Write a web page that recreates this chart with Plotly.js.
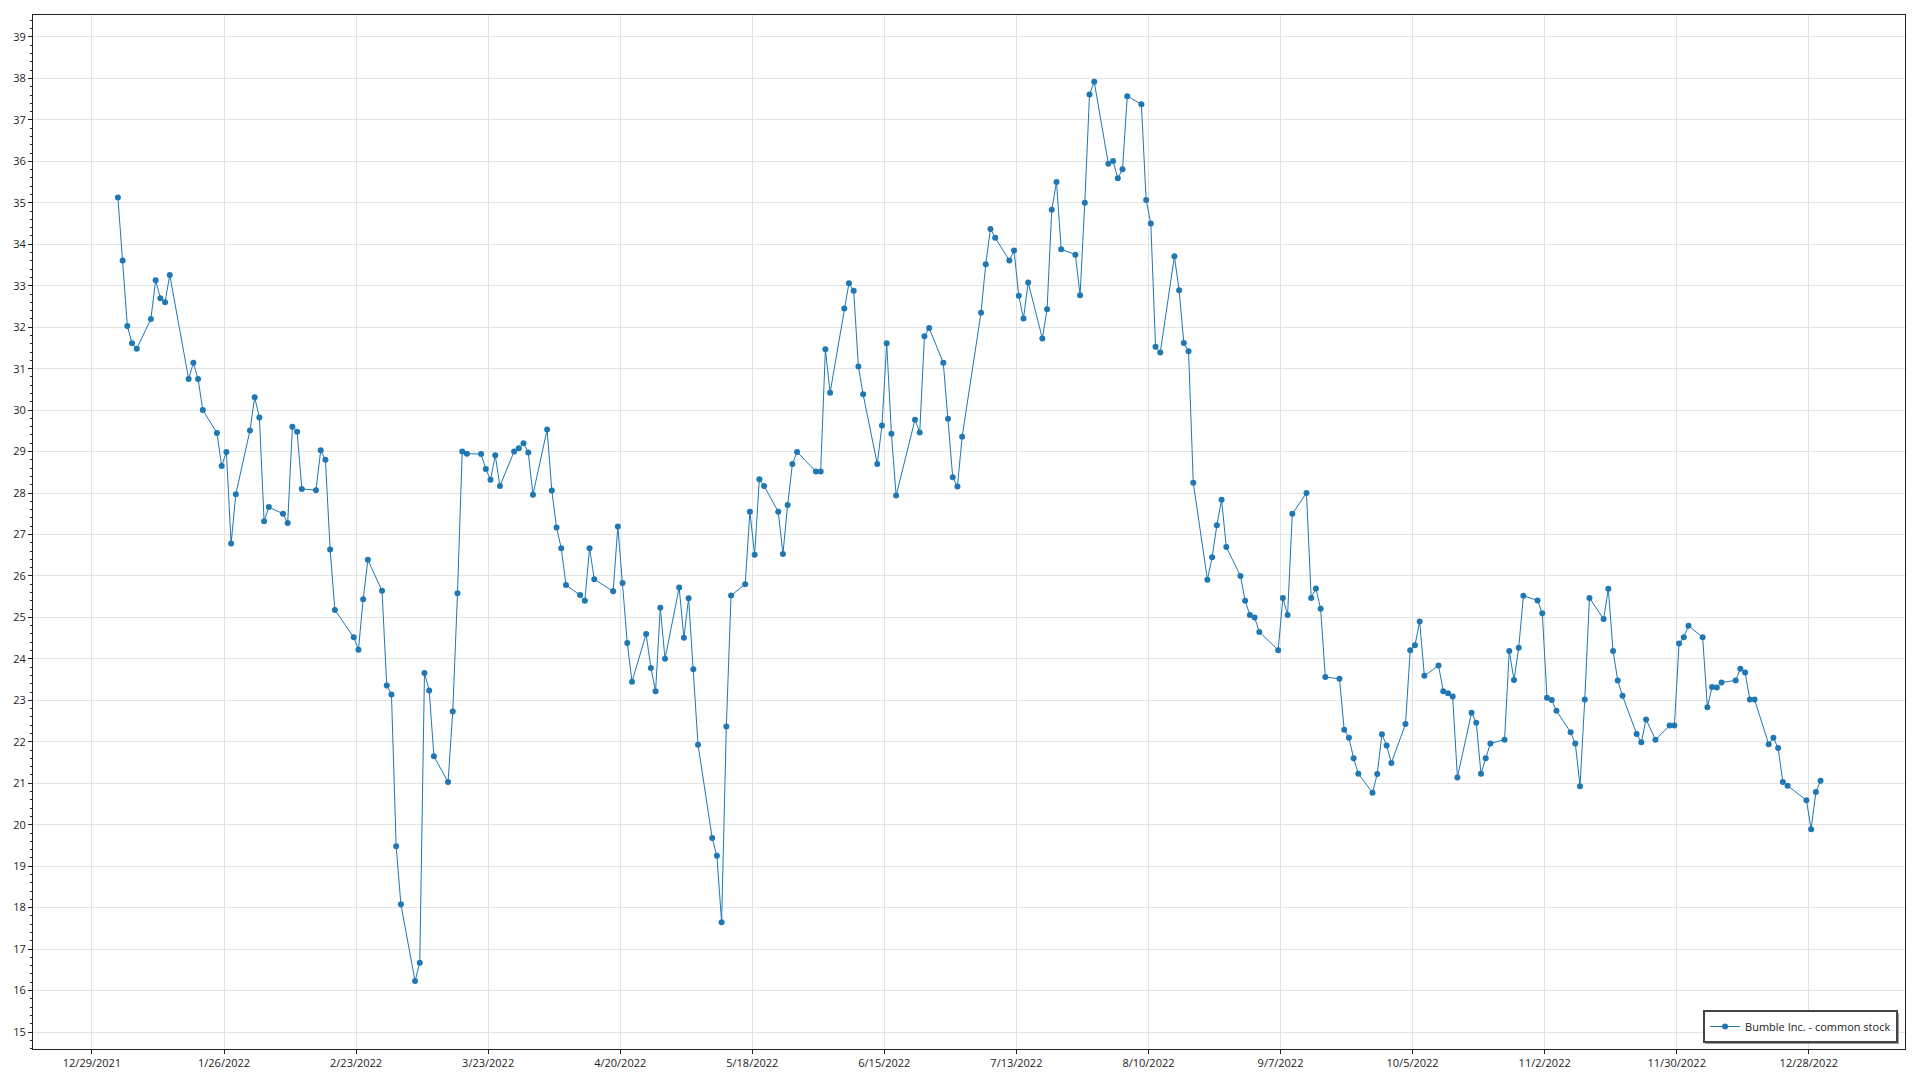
<!DOCTYPE html>
<html>
<head>
<meta charset="utf-8">
<script src="https://cdn.plot.ly/plotly-3.0.1.min.js"></script>
<style>
html,body{margin:0;padding:0;background:#fff;}
#chart{width:1920px;height:1080px;}
</style>
</head>
<body>
<div id="chart"></div>
<script>
const seriesName = "Bumble Inc. - common stock";
const dates = [
"2022-01-03","2022-01-04","2022-01-05","2022-01-06","2022-01-07",
"2022-01-10","2022-01-11","2022-01-12","2022-01-13","2022-01-14",
"2022-01-18","2022-01-19","2022-01-20","2022-01-21",
"2022-01-24","2022-01-25","2022-01-26","2022-01-27","2022-01-28",
"2022-01-31","2022-02-01","2022-02-02","2022-02-03","2022-02-04",
"2022-02-07","2022-02-08","2022-02-09","2022-02-10","2022-02-11",
"2022-02-14","2022-02-15","2022-02-16","2022-02-17","2022-02-18",
"2022-02-22","2022-02-23","2022-02-24","2022-02-25",
"2022-02-28","2022-03-01","2022-03-02","2022-03-03","2022-03-04",
"2022-03-07","2022-03-08","2022-03-09","2022-03-10","2022-03-11",
"2022-03-14","2022-03-15","2022-03-16","2022-03-17","2022-03-18",
"2022-03-21","2022-03-22","2022-03-23","2022-03-24","2022-03-25",
"2022-03-28","2022-03-29","2022-03-30","2022-03-31","2022-04-01",
"2022-04-04","2022-04-05","2022-04-06","2022-04-07","2022-04-08",
"2022-04-11","2022-04-12","2022-04-13","2022-04-14",
"2022-04-18","2022-04-19","2022-04-20","2022-04-21","2022-04-22",
"2022-04-25","2022-04-26","2022-04-27","2022-04-28","2022-04-29",
"2022-05-02","2022-05-03","2022-05-04","2022-05-05","2022-05-06",
"2022-05-09","2022-05-10","2022-05-11","2022-05-12","2022-05-13",
"2022-05-16","2022-05-17","2022-05-18","2022-05-19","2022-05-20",
"2022-05-23","2022-05-24","2022-05-25","2022-05-26","2022-05-27",
"2022-05-31","2022-06-01","2022-06-02","2022-06-03",
"2022-06-06","2022-06-07","2022-06-08","2022-06-09","2022-06-10",
"2022-06-13","2022-06-14","2022-06-15","2022-06-16","2022-06-17",
"2022-06-21","2022-06-22","2022-06-23","2022-06-24",
"2022-06-27","2022-06-28","2022-06-29","2022-06-30","2022-07-01",
"2022-07-05","2022-07-06","2022-07-07","2022-07-08",
"2022-07-11","2022-07-12","2022-07-13","2022-07-14","2022-07-15",
"2022-07-18","2022-07-19","2022-07-20","2022-07-21","2022-07-22",
"2022-07-25","2022-07-26","2022-07-27","2022-07-28","2022-07-29",
"2022-08-01","2022-08-02","2022-08-03","2022-08-04","2022-08-05",
"2022-08-08","2022-08-09","2022-08-10","2022-08-11","2022-08-12",
"2022-08-15","2022-08-16","2022-08-17","2022-08-18","2022-08-19",
"2022-08-22","2022-08-23","2022-08-24","2022-08-25","2022-08-26",
"2022-08-29","2022-08-30","2022-08-31","2022-09-01","2022-09-02",
"2022-09-06","2022-09-07","2022-09-08","2022-09-09",
"2022-09-12","2022-09-13","2022-09-14","2022-09-15","2022-09-16",
"2022-09-19","2022-09-20","2022-09-21","2022-09-22","2022-09-23",
"2022-09-26","2022-09-27","2022-09-28","2022-09-29","2022-09-30",
"2022-10-03","2022-10-04","2022-10-05","2022-10-06","2022-10-07",
"2022-10-10","2022-10-11","2022-10-12","2022-10-13","2022-10-14",
"2022-10-17","2022-10-18","2022-10-19","2022-10-20","2022-10-21",
"2022-10-24","2022-10-25","2022-10-26","2022-10-27","2022-10-28",
"2022-10-31","2022-11-01","2022-11-02","2022-11-03","2022-11-04",
"2022-11-07","2022-11-08","2022-11-09","2022-11-10","2022-11-11",
"2022-11-14","2022-11-15","2022-11-16","2022-11-17","2022-11-18",
"2022-11-21","2022-11-22","2022-11-23","2022-11-25",
"2022-11-28","2022-11-29","2022-11-30","2022-12-01","2022-12-02",
"2022-12-05","2022-12-06","2022-12-07","2022-12-08","2022-12-09",
"2022-12-12","2022-12-13","2022-12-14","2022-12-15","2022-12-16",
"2022-12-19","2022-12-20","2022-12-21","2022-12-22","2022-12-23",
"2022-12-27","2022-12-28","2022-12-29","2022-12-30"
];
const prices = [
35.13,33.61,32.03,31.61,31.48,
32.20,33.13,32.70,32.60,33.26,
30.75,31.14,30.75,30.00,
29.45,28.65,28.99,26.78,27.97,
29.51,30.31,29.82,27.32,27.66,
27.50,27.28,29.60,29.48,28.10,
28.07,29.03,28.80,26.64,25.18,
24.52,24.22,25.44,26.39,
25.64,23.36,23.14,19.48,18.08,
16.23,16.67,23.66,23.24,21.65,
21.03,22.73,25.58,29.00,28.95,
28.94,28.58,28.32,28.91,28.17,
29.00,29.08,29.20,28.98,27.96,
29.53,28.06,27.17,26.67,25.78,
25.54,25.40,26.67,25.92,
25.63,27.19,25.83,24.38,23.45,
24.60,23.78,23.22,25.23,24.00,
25.72,24.51,25.46,23.75,21.93,
19.68,19.25,17.65,22.37,25.53,
25.80,27.55,26.51,28.33,28.17,
27.55,26.53,27.71,28.70,28.99,
28.52,28.52,31.47,30.42,
32.45,33.06,32.88,31.05,30.38,
28.70,29.63,31.61,29.43,27.94,
29.77,29.46,31.78,31.98,
31.14,29.79,28.38,28.16,29.36,
32.35,33.52,34.37,34.16,
33.61,33.85,32.76,32.21,33.08,
31.73,32.43,34.83,35.50,33.88,
33.75,32.77,35.00,37.61,37.92,
35.94,36.01,35.59,35.81,37.57,
37.38,35.07,34.50,31.53,31.39,
33.71,32.89,31.62,31.42,28.25,
25.91,26.45,27.22,27.84,26.70,
26.00,25.40,25.06,25.00,24.65,
24.21,25.47,25.06,27.50,
28.00,25.47,25.70,25.21,23.56,
23.52,22.29,22.10,21.60,21.23,
20.77,21.22,22.18,21.91,21.49,
22.43,24.21,24.33,24.90,23.59,
23.84,23.22,23.17,23.09,21.14,
22.70,22.46,21.23,21.60,21.96,
22.05,24.19,23.49,24.27,25.52,
25.41,25.10,23.06,23.01,22.75,
22.23,21.96,20.93,23.02,25.47,
24.96,25.69,24.19,23.48,23.11,
22.19,21.99,22.54,22.05,
22.39,22.39,24.37,24.52,24.80,
24.52,22.83,23.32,23.31,23.43,
23.48,23.76,23.67,23.02,23.02,
21.94,22.10,21.85,21.03,20.94,
20.59,19.89,20.79,21.06
];
const xTickStart = "2021-12-29";
const yTickValues = [15,16,17,18,19,20,21,22,23,24,25,26,27,28,29,30,31,32,33,34,35,36,37,38,39];

const lineColor = "#1f77b4";
const fontFamily = "'Open Sans', 'Noto Sans', sans-serif";
const DAY_MS = 24 * 3600 * 1000;

const trace = {
  type: "scatter",
  mode: "lines+markers",
  name: seriesName,
  x: dates,
  y: prices,
  xperiod: DAY_MS,
  xperiodalignment: "middle",
  line: {color: lineColor, width: 1},
  marker: {color: lineColor, size: 6},
  showlegend: true
};

const layout = {
  width: 1920,
  height: 1080,
  margin: {l: 33, r: 15, t: 15, b: 31, pad: 0},
  paper_bgcolor: "#ffffff",
  plot_bgcolor: "#ffffff",
  font: {family: fontFamily, size: 11, color: "#222"},
  showlegend: true,
  xaxis: {
    type: "date",
    range: ["2021-12-16 12:00", "2023-01-17 09:36"],
    tick0: xTickStart,
    dtick: 28 * DAY_MS,
    tickformat: "%-m/%-d/%Y",
    ticks: "outside",
    ticklen: 4,
    tickcolor: "#222",
    showgrid: true,
    gridcolor: "#e3e3e3",
    gridwidth: 1,
    showline: true,
    linecolor: "#222",
    linewidth: 1,
    mirror: true,
    zeroline: false,
    tickfont: {size: 11, color: "#222"}
  },
  yaxis: {
    range: [14.59, 39.53],
    tickvals: yTickValues,
    ticks: "outside",
    ticklen: 4,
    tickcolor: "#222",
    showgrid: true,
    gridcolor: "#e3e3e3",
    gridwidth: 1,
    showline: true,
    linecolor: "#222",
    linewidth: 1,
    mirror: true,
    zeroline: false,
    tickfont: {size: 11, color: "#222"},
    minor: {ticks: "outside", ticklen: 2, dtick: 0.2, tickcolor: "#222", showgrid: false}
  },
  shapes: [{
    type: "rect",
    xref: "paper", yref: "paper",
    x0: 0.8932, x1: 0.9968, y0: 0.0048, y1: 0.0348,
    fillcolor: "#a0a0a0",
    line: {width: 0},
    layer: "above"
  }],
  legend: {
    x: 0.9963,
    y: 0.0058,
    xanchor: "right",
    yanchor: "bottom",
    bgcolor: "#ffffff",
    bordercolor: "#444",
    borderwidth: 2,
    font: {size: 11, color: "#222"}
  }
};

Plotly.newPlot("chart", [trace], layout, {displayModeBar: false, responsive: false});
</script>
</body>
</html>
